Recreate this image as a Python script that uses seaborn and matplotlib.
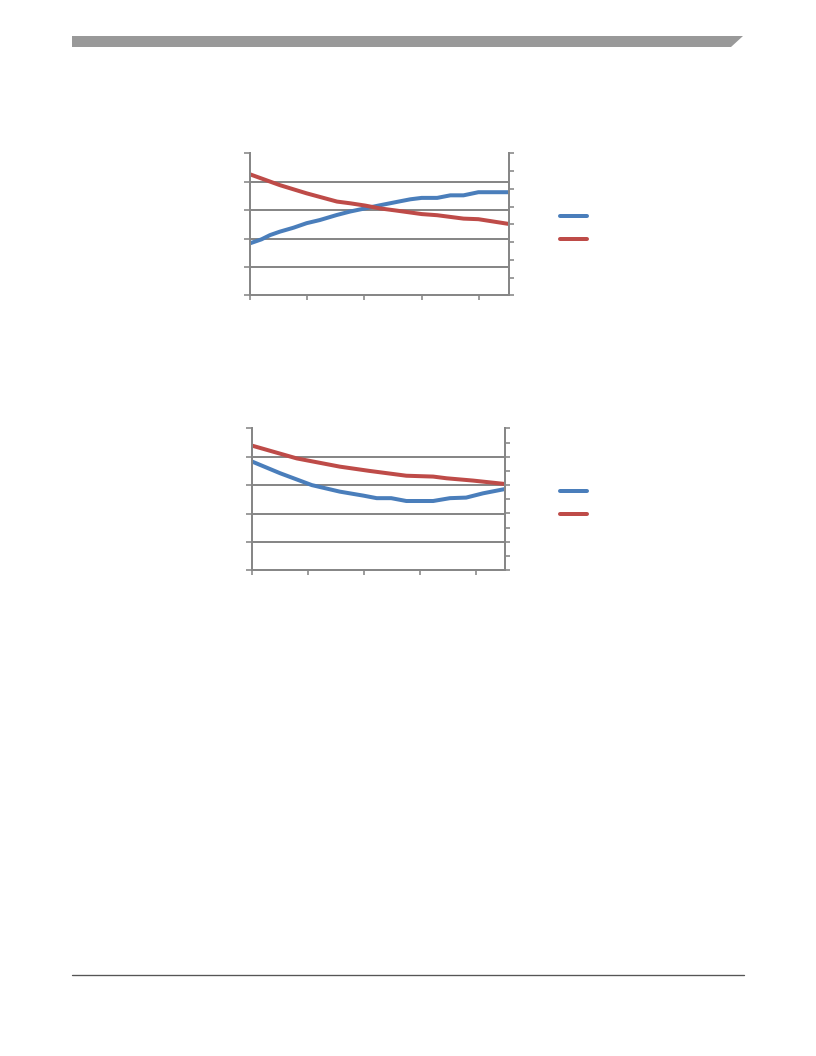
import numpy as np
import pandas as pd
import seaborn as sns
import matplotlib.pyplot as plt
from matplotlib.patches import Polygon
from matplotlib.lines import Line2D

# Chart 1 data (left axis units, x in tick units)
top_blue_x = [0, 0.2, 0.35, 0.52, 0.76, 0.99, 1.22, 1.52, 1.75, 2.01, 2.27, 2.57, 2.80, 3.00, 3.27, 3.50, 3.73, 3.99, 4.53]
top_blue_y = [1.83, 1.97, 2.12, 2.24, 2.38, 2.54, 2.65, 2.83, 2.95, 3.06, 3.17, 3.29, 3.38, 3.43, 3.43, 3.52, 3.52, 3.63, 3.63]
top_red_x = [0, 0.52, 0.99, 1.52, 1.75, 2.01, 2.27, 2.57, 3.00, 3.27, 3.73, 3.99, 4.53]
top_red_y = [4.26, 3.88, 3.59, 3.30, 3.24, 3.16, 3.06, 2.98, 2.86, 2.82, 2.70, 2.68, 2.51]

# Chart 2 data
bot_blue_x = [0, 0.5, 1.07, 1.57, 1.99, 2.23, 2.49, 2.76, 3.24, 3.54, 3.83, 4.13, 4.52]
bot_blue_y = [3.83, 3.42, 3.00, 2.77, 2.63, 2.54, 2.54, 2.44, 2.44, 2.54, 2.56, 2.71, 2.86]
bot_red_x = [0, 0.8, 1.57, 2.1, 2.76, 3.24, 3.48, 3.95, 4.52]
bot_red_y = [4.39, 3.94, 3.65, 3.50, 3.33, 3.30, 3.24, 3.16, 3.04]

x_ticks = [0, 1, 2, 3, 4]
left_ticks = [0, 1, 2, 3, 4, 5]

blue = "#4a7ebb"
red = "#be4b48"
gray = "#878787"

sns.set_style("white")

W, H = 816, 1056
fig = plt.figure(figsize=(8.5, 11), dpi=96)


def make_chart(box, bx, by, rx, ry, n_right, leg_y):
    left, top, right, bottom = box
    ax = fig.add_axes([left / W, 1 - bottom / H, (right - left) / W, (bottom - top) / H])
    df = pd.concat([
        pd.DataFrame({"x": bx, "y": by, "s": "a"}),
        pd.DataFrame({"x": rx, "y": ry, "s": "b"}),
    ])
    sns.lineplot(data=df, x="x", y="y", hue="s", palette=[blue, red],
                 linewidth=3, legend=False, ax=ax, estimator=None, sort=False)
    ax.set_xlim(0, 4.53)
    ax.set_ylim(0, 5)
    ax.set_xticks(x_ticks)
    ax.set_yticks(left_ticks)
    ax.set_xticklabels([])
    ax.set_yticklabels([])
    ax.set_xlabel("")
    ax.set_ylabel("")
    for yv in left_ticks[1:-1]:
        ax.axhline(yv, color=gray, lw=1.5, zorder=0)
    ax.spines["top"].set_visible(False)
    for side in ["left", "bottom", "right"]:
        ax.spines[side].set_color(gray)
        ax.spines[side].set_linewidth(1.5)
    ax.tick_params(axis="x", direction="out", length=3.5, width=1.2, color=gray, bottom=True)
    ax.tick_params(axis="y", direction="out", length=4.5, width=1.2, color=gray, left=True)
    ax2 = ax.twinx()
    ax2.set_ylim(0, n_right)
    ax2.set_yticks(np.arange(n_right + 1))
    ax2.set_yticklabels([])
    ax2.tick_params(axis="y", direction="out", length=3.5, width=1.2, color=gray, right=True)
    for side in ax2.spines:
        ax2.spines[side].set_visible(False)
    handles = [Line2D([], [], color=blue, lw=3), Line2D([], [], color=red, lw=3)]
    fig.legend(handles, [" ", " "], loc="upper left", frameon=False,
               bbox_to_anchor=(549 / W, 1 - leg_y / H), handlelength=2.3,
               labelspacing=0.85, fontsize=9)
    return ax


make_chart((250, 153.3, 509.3, 295.3), top_blue_x, top_blue_y, top_red_x, top_red_y, 8, 199)
make_chart((252, 428.3, 505.3, 570.3), bot_blue_x, bot_blue_y, bot_red_x, bot_red_y, 10, 474)

# header bar and footer rule
bar = Polygon([(72 / W, 1 - 36 / H), (743 / W, 1 - 36 / H), (731 / W, 1 - 47 / H), (72 / W, 1 - 47 / H)],
              closed=True, transform=fig.transFigure, facecolor="#999999", edgecolor="none")
fig.patches.append(bar)
fig.add_artist(Line2D([72 / W, 744 / W], [1 - 975 / H, 1 - 975 / H], color="#555555", lw=1,
                      transform=fig.transFigure))

fig.savefig("out.png", dpi=96)
